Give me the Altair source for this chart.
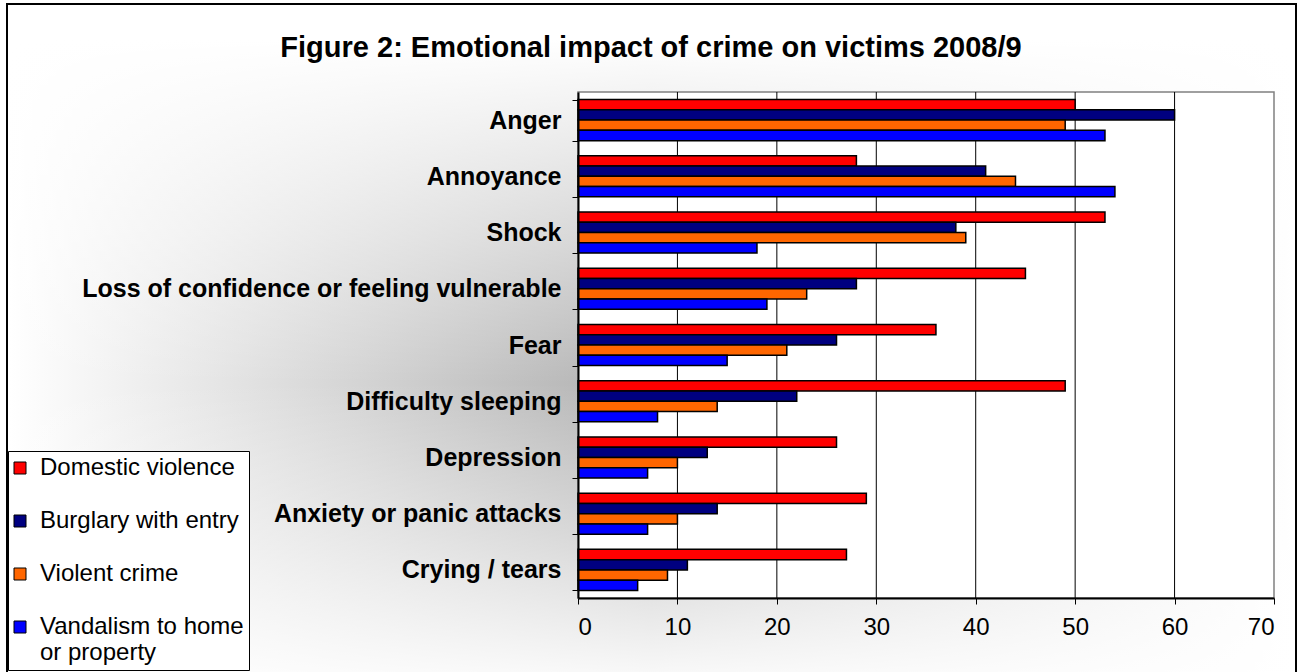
import altair as alt
import pandas as pd

categories = ["Anger", "Annoyance", "Shock", "Loss of confidence or feeling vulnerable",
              "Fear", "Difficulty sleeping", "Depression", "Anxiety or panic attacks", "Crying / tears"]
series = ["Domestic violence", "Burglary with entry", "Violent crime", "Vandalism to home or property"]
domestic = [50, 28, 53, 45, 36, 49, 26, 29, 27]
burglary = [60, 41, 38, 28, 26, 22, 13, 14, 11]
violent = [49, 44, 39, 23, 21, 14, 10, 10, 9]
vandalism = [53, 54, 18, 19, 15, 8, 7, 7, 6]
colors = ["#FF0000", "#000080", "#FF6600", "#0000FF"]
x_ticks = [0, 10, 20, 30, 40, 50, 60, 70]
grid_vals = [10, 20, 30, 40, 50, 60]

rows = []
for s, vals in zip(series, [domestic, burglary, violent, vandalism]):
    for c, v in zip(categories, vals):
        rows.append({"category": c, "series": s, "value": v})
df = pd.DataFrame(rows)

W, H = 696, 506
FONT = "Liberation Sans, Arial, sans-serif"

frame = alt.Chart(alt.Data(values=[{}])).mark_rect(
    fill="white", stroke="black", strokeWidth=2
).encode(x=alt.value(-571), x2=alt.value(718), y=alt.value(-88), y2=alt.value(600))

# horizontal grey falloff
shade_h = alt.Chart(alt.Data(values=[{}])).mark_rect(
    fill=alt.LinearGradient(
        gradient="linear", x1=0, y1=0, x2=1, y2=0,
        stops=[alt.GradientStop(color="#ffffff", offset=0),
               alt.GradientStop(color="#b0b0b0", offset=0.5),
               alt.GradientStop(color="#ffffff", offset=1)]),
    strokeWidth=0
).encode(x=alt.value(-569), x2=alt.value(716), y=alt.value(-52), y2=alt.value(608))

# vertical fade to white
shade_v = alt.Chart(alt.Data(values=[{}])).mark_rect(
    fill=alt.LinearGradient(
        gradient="linear", x1=0, y1=0, x2=0, y2=1,
        stops=[alt.GradientStop(color="rgba(255,255,255,1)", offset=0),
               alt.GradientStop(color="rgba(255,255,255,0.45)", offset=0.3),
               alt.GradientStop(color="rgba(255,255,255,0)", offset=0.52),
               alt.GradientStop(color="rgba(255,255,255,0.45)", offset=0.75),
               alt.GradientStop(color="rgba(255,255,255,1)", offset=1)]),
    strokeWidth=0
).encode(x=alt.value(-569), x2=alt.value(716), y=alt.value(-52), y2=alt.value(608))

plot_bg = alt.Chart(alt.Data(values=[{}])).mark_rect(
    fill="white", stroke="#808080", strokeWidth=1.5
).encode(x=alt.value(0), x2=alt.value(W), y=alt.value(0), y2=alt.value(H))

grid = alt.Chart(pd.DataFrame({"value": grid_vals})).mark_rule(
    color="black", strokeWidth=1
).encode(x=alt.X("value:Q"), y=alt.value(0), y2=alt.value(H))

bars = alt.Chart(df).mark_bar(stroke="black", strokeWidth=1.5).encode(
    x=alt.X("value:Q", scale=alt.Scale(domain=[0, 70], nice=False),
            axis=alt.Axis(values=x_ticks, title=None, grid=False, labelFont=FONT,
                          labelFontSize=24, labelColor="black", domainColor="black",
                          domainWidth=2, tickColor="black", tickSize=6, labelPadding=11,
                          zindex=1)),
    y=alt.Y("category:N", sort=categories,
            scale=alt.Scale(paddingInner=0.27, paddingOuter=0.135),
            axis=alt.Axis(title=None, labelFont=FONT, labelFontSize=25,
                          labelFontWeight="bold", labelColor="black",
                          domainColor="black", domainWidth=2, tickColor="black",
                          tickSize=6, tickBand="extent", labelPadding=11,
                          labelLimit=700, zindex=1)),
    yOffset=alt.YOffset("series:N", sort=series, scale=alt.Scale(domain=series)),
    color=alt.Color("series:N", sort=series,
                    scale=alt.Scale(domain=series, range=colors),
                    legend=alt.Legend(
                        orient="none", legendX=-570, legendY=359, title=None,
                        direction="vertical", fillColor="white", strokeColor="black",
                        padding=5, symbolType="square", symbolSize=144,
                        symbolOffset=-5,
                        symbolStrokeColor="black", symbolStrokeWidth=1,
                        labelFont=FONT, labelFontSize=24, labelColor="black",
                        labelOffset=8, labelLimit=400, rowPadding=29, zindex=1,
                        labelExpr="datum.label == 'Vandalism to home or property' ? ['Vandalism to home', 'or property'] : datum.label")),
)

chart = alt.layer(frame, shade_h, shade_v, plot_bg, grid, bars).properties(
    width=W, height=H,
    padding={"left": 578, "top": 92, "right": 28, "bottom": 74},
    autosize=alt.AutoSizeParams(type="none"),
    title=alt.TitleParams(
        text="Figure 2: Emotional impact of crime on victims 2008/9",
        font=FONT, fontSize=29, fontWeight="bold", color="black",
        anchor="middle", dx=-275, dy=83, offset=0, baseline="alphabetic"),
).configure_view(stroke=None).configure(background="white")

chart.save("out.html", embed_options={"renderer": "svg", "actions": False})
